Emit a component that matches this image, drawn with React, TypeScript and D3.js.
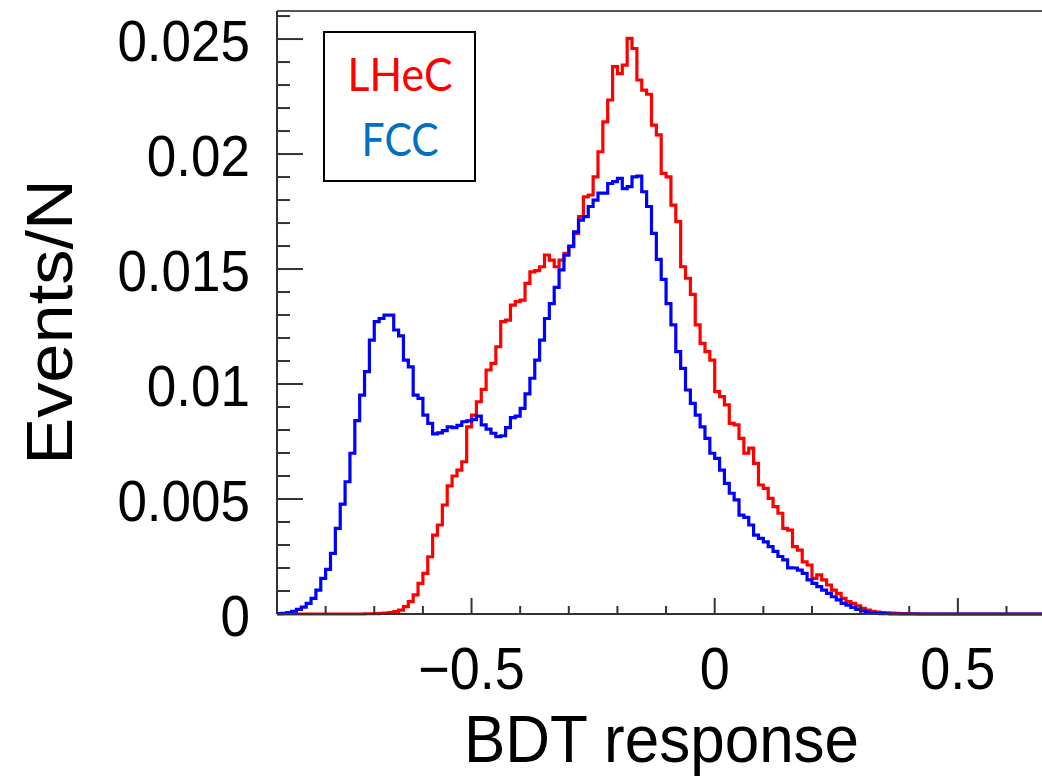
import React, { useEffect, useRef } from "react";
import * as d3 from "d3";

// histogram binning of the BDT response
const binLow = -0.9;
const binWidth = 0.01;

// LHeC, normalised entries per bin (bins from -0.9 upwards)
const lhecValues = [
  0, 0, 0, 0, 0, 0, 0, 0, 0, 0,
  0, 0, 0, 0, 0, 0, 0, 0, 0.00001, 0.00001,
  0.00002, 0.00003, 0.00004, 0.00006, 0.0001, 0.00017, 0.00032, 0.00054, 0.00083, 0.00133,
  0.00177, 0.00249, 0.00343, 0.00387, 0.00474, 0.00557, 0.006, 0.00626, 0.00662, 0.00814,
  0.00865, 0.00923, 0.00977, 0.01061, 0.0109, 0.01162, 0.01271, 0.01278, 0.01343, 0.01358,
  0.01365, 0.01438, 0.01488, 0.01493, 0.0151, 0.01561, 0.01539, 0.0151, 0.01539, 0.01568,
  0.01597, 0.01655, 0.01728, 0.01814, 0.01822, 0.01901, 0.0201, 0.0214, 0.02235, 0.0238,
  0.0235, 0.02387, 0.02503, 0.02459, 0.02322, 0.02278, 0.0226, 0.02126, 0.02083, 0.01916,
  0.01901, 0.01778, 0.01706, 0.0151, 0.0146, 0.0139, 0.01257, 0.01177, 0.01141, 0.01104,
  0.00967, 0.00945, 0.00909, 0.00829, 0.00822, 0.00764, 0.00699, 0.00721, 0.00655, 0.00561,
  0.00546, 0.00503, 0.00467, 0.00438, 0.00372, 0.00365, 0.00293, 0.00278, 0.00227, 0.00213,
  0.00155, 0.0017, 0.00148, 0.00126, 0.00104, 0.0009, 0.00068, 0.00054, 0.00046, 0.00035,
  0.00025, 0.00017, 0.00012, 0.00008, 0.00006, 0.00005, 0.00004, 0.00003, 0.00002, 0.00002,
  0.00001, 0.00001, 0, 0, 0, 0, 0, 0, 0, 0,
  0, 0, 0, 0, 0, 0, 0, 0, 0, 0,
  0, 0, 0, 0, 0, 0, 0, 0,
];

// FCC, normalised entries per bin
const fccValues = [
  0.00002, 0.00003, 0.00006, 0.00012, 0.0002, 0.0003, 0.00046, 0.00068, 0.00104, 0.00155,
  0.00194, 0.00264, 0.00372, 0.00478, 0.00575, 0.00699, 0.00841, 0.00952, 0.01054, 0.01191,
  0.01271, 0.01285, 0.013, 0.013, 0.01235, 0.01209, 0.01104, 0.01075, 0.00952, 0.00938,
  0.00865, 0.00829, 0.00783, 0.00788, 0.00797, 0.00814, 0.0081, 0.0082, 0.00836, 0.0084,
  0.00845, 0.0086, 0.00822, 0.00804, 0.00786, 0.00771, 0.00775, 0.0081, 0.00854, 0.0086,
  0.00894, 0.00957, 0.01025, 0.01104, 0.01191, 0.01285, 0.0135, 0.0142, 0.01496, 0.0156,
  0.016, 0.01662, 0.01713, 0.01728, 0.01772, 0.018, 0.0183, 0.0183, 0.01872, 0.0188,
  0.01894, 0.0185, 0.01858, 0.01901, 0.01904, 0.01836, 0.01772, 0.01655, 0.01542, 0.01455,
  0.0135, 0.01257, 0.01141, 0.01068, 0.00974, 0.00916, 0.00865, 0.00814, 0.00764, 0.00699,
  0.00677, 0.00626, 0.00568, 0.00525, 0.00496, 0.0043, 0.0042, 0.00387, 0.00343, 0.00329,
  0.00314, 0.00293, 0.00272, 0.0025, 0.00235, 0.00201, 0.002, 0.00191, 0.00177, 0.00148,
  0.00133, 0.00119, 0.00104, 0.0009, 0.00075, 0.00061, 0.00046, 0.00039, 0.00029, 0.0002,
  0.00013, 0.00008, 0.00005, 0.00003, 0.00002, 0.00001, 0, 0, 0, 0,
  0, 0, 0, 0, 0, 0, 0, 0, 0, 0,
  0, 0, 0, 0, 0, 0, 0, 0, 0, 0,
  0, 0, 0, 0, 0, 0, 0, 0,
];

const yTickValues = [0, 0.005, 0.01, 0.015, 0.02, 0.025];
const yTickLabels = ["0", "0.005", "0.01", "0.015", "0.02", "0.025"];
const xTickValues = [-0.5, 0, 0.5];
const xTickLabels = ["\u22120.5", "0", "0.5"];

const legendLabels = ["LHeC", "FCC"];
const legendColors = ["#ff0000", "#0070c0"];

const BdtChart = () => {
  const svgRef = useRef<SVGSVGElement>(null);

  useEffect(() => {
    const svg = d3.select(svgRef.current);
    svg.selectAll("*").remove();

    const left = 277, right = 1042, top = 11, bottom = 614;
    const font = "'Liberation Sans', Arial, Helvetica, sans-serif";

    const x = d3.scaleLinear().domain([-0.9, 0.673]).range([left, right]);
    const y = d3.scaleLinear().domain([0, 0.02622]).range([bottom, top]);

    svg.append("rect").attr("width", 1042).attr("height", 778).attr("fill", "#fff");

    svg.append("defs").append("clipPath").attr("id", "plot-clip")
      .append("rect")
      .attr("x", left).attr("y", top - 2)
      .attr("width", right - left).attr("height", bottom - top + 4);

    // histogram outlines
    const step = d3.line<[number, number]>()
      .x((d) => x(d[0]))
      .y((d) => y(d[1]))
      .curve(d3.curveStepAfter);

    const toPoints = (vals: number[]): [number, number][] => {
      const pts: [number, number][] = vals.map((v, i) => [binLow + i * binWidth, v]);
      pts.push([binLow + vals.length * binWidth, vals[vals.length - 1]]);
      return pts;
    };

    const plot = svg.append("g").attr("clip-path", "url(#plot-clip)");
    plot.append("path")
      .attr("d", step(toPoints(lhecValues)))
      .attr("fill", "none")
      .attr("stroke", "#ff0000")
      .attr("stroke-width", 3.2);
    plot.append("path")
      .attr("d", step(toPoints(fccValues)))
      .attr("fill", "none")
      .attr("stroke", "#0000ff")
      .attr("stroke-width", 3.2);

    // frame
    const axisColor = "#333";
    svg.append("line").attr("x1", left).attr("x2", right).attr("y1", top).attr("y2", top)
      .attr("stroke", "#555").attr("stroke-width", 2);
    svg.append("line").attr("x1", left).attr("x2", left).attr("y1", top).attr("y2", bottom)
      .attr("stroke", axisColor).attr("stroke-width", 2);
    svg.append("line").attr("x1", left).attr("x2", right).attr("y1", bottom).attr("y2", bottom)
      .attr("stroke", axisColor).attr("stroke-width", 2);

    // y ticks: major every 0.005, minor every 0.001
    const yMinor = d3.range(0, 27).map((i) => i * 0.001).filter((v) => v <= 0.02622);
    svg.append("g").selectAll("line")
      .data(yMinor)
      .enter()
      .append("line")
      .attr("x1", left)
      .attr("x2", (d, i) => left + (i % 5 === 0 ? 26 : 13))
      .attr("y1", (d) => y(d))
      .attr("y2", (d) => y(d))
      .attr("stroke", axisColor)
      .attr("stroke-width", 2);

    // x ticks: every 0.1, longer at the labelled ones
    const xMinor = d3.range(-8, 7).map((i) => i / 10);
    svg.append("g").selectAll("line")
      .data(xMinor)
      .enter()
      .append("line")
      .attr("x1", (d) => x(d))
      .attr("x2", (d) => x(d))
      .attr("y1", bottom)
      .attr("y2", (d) => bottom - (xTickValues.some((t) => Math.abs(t - d) < 1e-6) ? 16 : 8))
      .attr("stroke", axisColor)
      .attr("stroke-width", 2);

    // tick labels (the picture is a little stretched vertically)
    svg.append("g").selectAll("text")
      .data(yTickValues)
      .enter()
      .append("text")
      .attr("transform", (d) => `translate(${left - 27},${y(d) + 22}) scale(1,1.08)`)
      .attr("text-anchor", "end")
      .attr("font-family", font)
      .attr("font-size", 53)
      .attr("fill", "#000")
      .text((d, i) => yTickLabels[i]);

    svg.append("g").selectAll("text")
      .data(xTickValues)
      .enter()
      .append("text")
      .attr("transform", (d) => `translate(${x(d)},689) scale(1,1.08)`)
      .attr("text-anchor", "middle")
      .attr("font-family", font)
      .attr("font-size", 54)
      .attr("fill", "#000")
      .text((d, i) => xTickLabels[i]);

    // axis titles
    svg.append("text")
      .attr("transform", "translate(464,762) scale(1,1.08)")
      .attr("font-family", font)
      .attr("font-size", 62)
      .attr("fill", "#000")
      .text("BDT response");

    svg.append("text")
      .attr("transform", "translate(72,322) scale(1,1.1) rotate(-90)")
      .attr("text-anchor", "middle")
      .attr("font-family", font)
      .attr("font-size", 64)
      .attr("fill", "#000")
      .text("Events/N");

    // legend box
    svg.append("rect")
      .attr("x", 324).attr("y", 32)
      .attr("width", 151).attr("height", 149)
      .attr("fill", "#fff")
      .attr("stroke", "#000")
      .attr("stroke-width", 2);

    const legendBaselines = [91, 156];
    const legendWidths = [105, 77];
    svg.append("g").selectAll("text")
      .data(legendLabels)
      .enter()
      .append("text")
      .attr("x", 400)
      .attr("y", (d, i) => legendBaselines[i])
      .attr("text-anchor", "middle")
      .attr("font-family", "Lato, 'Open Sans', sans-serif")
      .attr("font-size", 46)
      .attr("textLength", (d, i) => legendWidths[i])
      .attr("lengthAdjust", "spacingAndGlyphs")
      .attr("fill", (d, i) => legendColors[i])
      .text((d) => d);
  }, []);

  return (
    <svg
      ref={svgRef}
      width={1042}
      height={778}
      style={{ position: "absolute", left: 0, top: 0, display: "block" }}
    ></svg>
  );
};

export default function App() {
  return <BdtChart />;
}
